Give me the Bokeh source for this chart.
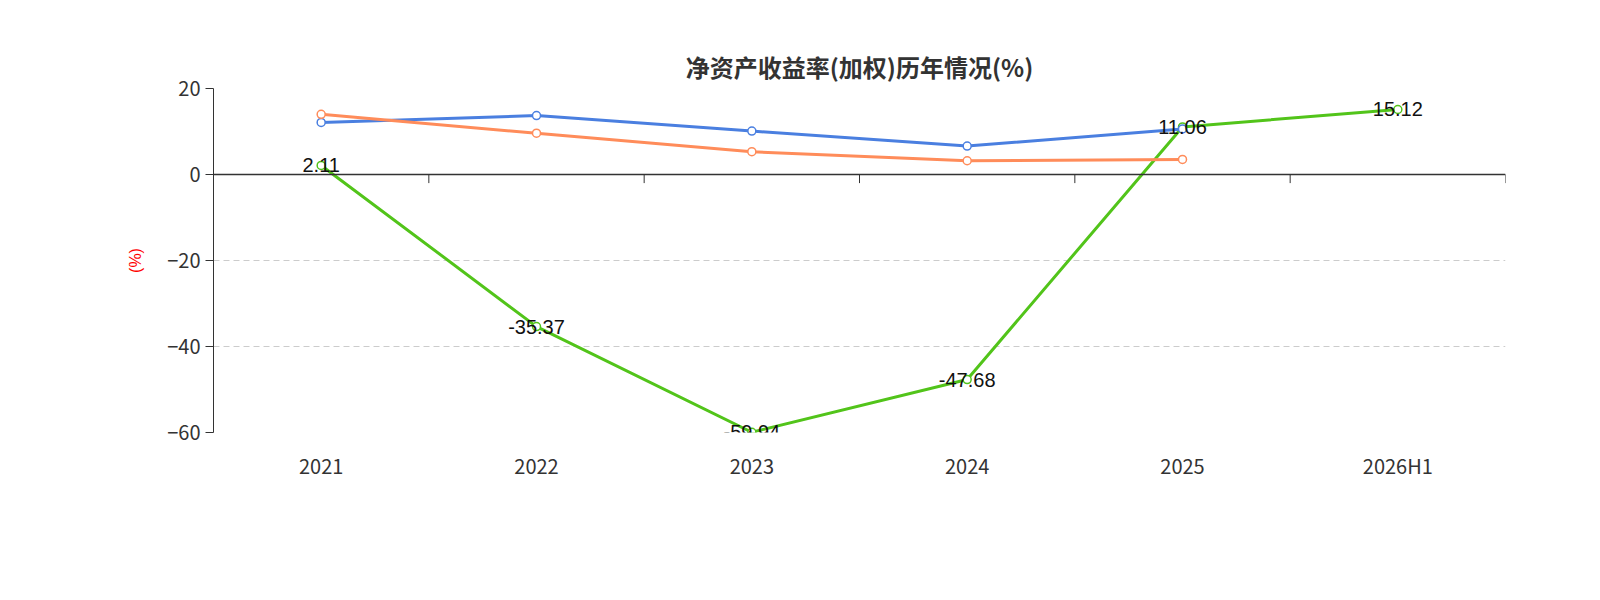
from bokeh.plotting import figure
from bokeh.models import Span, Legend, LegendItem, Title, ColumnDataSource, FixedTicker
from bokeh.embed import file_html
from bokeh.resources import INLINE

years = ["2021", "2022", "2023", "2024", "2025", "2026H1"]
company = [2.11, -35.37, -59.94, -47.68, 11.06, 15.12]
ind_mean = [12.1, 13.7, 10.1, 6.6, 10.6]
ind_median = [14.0, 9.6, 5.3, 3.2, 3.5]

xs = [i + 0.5 for i in range(len(years))]
FONT = "Noto Sans CJK SC"

p = figure(frame_width=1292, frame_height=344, x_range=(0, 6), y_range=(-60, 20),
           output_backend="svg", toolbar_location=None,
           min_border_left=213, min_border_right=63, min_border_top=88, min_border_bottom=10)
p.outline_line_color = None
p.xgrid.grid_line_color = None
p.ygrid.grid_line_dash = "6 4"
p.ygrid.grid_line_color = "#cccccc"
p.yaxis.ticker = FixedTicker(ticks=[-60, -40, -20, 0, 20])
p.xaxis.ticker = FixedTicker(ticks=xs)
p.xaxis.major_label_overrides = {x: y for x, y in zip(xs, years)}
p.xaxis.axis_line_color = None
p.xaxis.major_tick_line_color = None
p.xaxis.minor_tick_line_color = None
p.xaxis.major_label_standoff = 12
p.yaxis.minor_tick_line_color = None
p.yaxis.axis_line_color = "#333333"
p.yaxis.major_tick_line_color = "#333333"
p.yaxis.major_tick_in = 0
p.yaxis.major_tick_out = 8
for ax in (p.xaxis, p.yaxis):
    ax.major_label_text_font = FONT
    ax.major_label_text_font_size = "20px"
    ax.major_label_text_color = "#333333"
p.yaxis.axis_label = "(%)"
p.yaxis.axis_label_text_color = "red"
p.yaxis.axis_label_text_font_size = "16px"
p.yaxis.axis_label_text_font_style = "normal"
p.yaxis.axis_label_standoff = 20

p.add_layout(Span(location=0, dimension="width", line_color="#333333", line_width=1.5))
p.segment(x0=list(range(7)), y0=[0] * 7, x1=list(range(7)), y1=[-2] * 7, line_color="#333333")

items = []
for vals, col, name in [(company, "#52c41a", "公司净资产收益率(加权)"),
                        (ind_mean, "#4a7fe0", "A股行业均值"),
                        (ind_median, "#ff8c5a", "A股行业中位数")]:
    src = ColumnDataSource(dict(x=xs[:len(vals)], y=vals))
    r1 = p.line("x", "y", source=src, line_color=col, line_width=3)
    r2 = p.scatter("x", "y", source=src, size=8, fill_color="white", line_color=col, line_width=1.5)
    items.append(LegendItem(label=name, renderers=[r1, r2]))

lsrc = ColumnDataSource(dict(x=xs, y=company, t=[f"{v:.2f}" for v in company]))
p.text("x", "y", "t", source=lsrc, text_align="center", text_baseline="middle",
       text_font_size="20px", text_color="#111111")

legend = Legend(items=items, orientation="horizontal", location="top_center",
                label_text_font=FONT, label_text_font_size="20px", label_text_color="#333333",
                glyph_width=50, spacing=20, border_line_color=None, margin=0, padding=20)
p.add_layout(legend, "below")
p.add_layout(Title(text="制图数据来自恒生聚源数据库", align="center", text_color="#c8961e",
                   text_font=FONT, text_font_size="15px", text_font_style="normal"), "below")
p.add_layout(Title(text="净资产收益率(加权)历年情况(%)", align="center", text_color="#333333",
                   text_font=FONT, text_font_size="24px", text_font_style="bold"), "above")

open("out.html", "w").write(file_html(p, INLINE))
